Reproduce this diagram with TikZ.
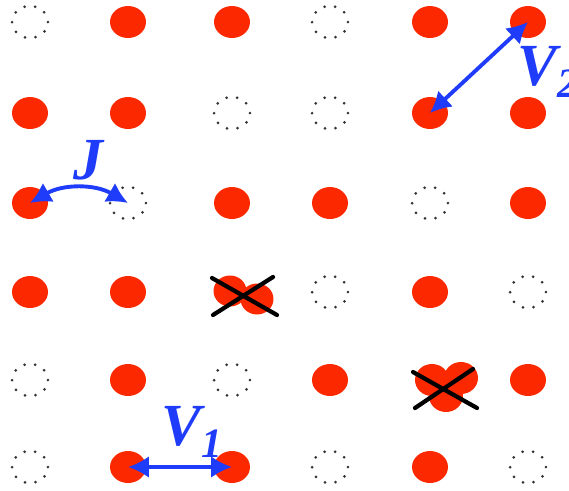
\documentclass[tikz,border=0pt]{standalone}
\usepackage{fontspec}
\setmainfont{Liberation Serif}
\usetikzlibrary{arrows.meta,shapes.geometric,calc}
\definecolor{dotred}{RGB}{252,40,0}
\definecolor{hopblue}{RGB}{30,60,250}

\begin{document}
\begin{tikzpicture}[x=0.02cm, y=-0.02cm,
	site/.style={ellipse, minimum width=0.72cm, minimum height=0.64cm, inner sep=0pt},
	occupied/.style={site, fill=dotred},
	vacant/.style={site, draw=black!80, line width=1.7pt, line cap=round, dash pattern=on 0pt off 6.1pt},
	double/.style={site},
	hop/.style={hopblue, line width=2.2pt, {Latex[length=4.2mm,width=4.4mm]}-{Latex[length=4.2mm,width=4.4mm]}},
	lbl/.style={hopblue, font=\fontsize{34}{34}\selectfont\bfseries\itshape},
	cross/.style={line width=2.4pt, line cap=round}]
	\useasboundingbox (0,0) rectangle (569,491);
	% lattice sites
	\foreach \r/\y/\kinds in {1/22/{vacant,occupied,occupied,vacant,occupied,occupied},
		2/113/{occupied,occupied,vacant,vacant,occupied,occupied},
		3/203/{occupied,vacant,occupied,occupied,vacant,occupied},
		4/292/{occupied,occupied,double,vacant,occupied,vacant},
		5/380/{vacant,occupied,vacant,occupied,double,occupied},
		6/467/{vacant,occupied,occupied,vacant,occupied,vacant}}{
		\foreach \k [count=\c] in \kinds {
			\pgfmathsetmacro\x{{30,128,232,330,430,528}[\c-1]}
			\node[\k] (s\r\c) at (\x,\y) {};
		}
	}
	% doubly occupied sites, crossed out
	\fill[dotred] ($(s43)+(-2,-1)$) ellipse [x radius=0.33cm, y radius=0.31cm];
	\fill[dotred] ($(s43)+(25,7)$) ellipse [x radius=0.33cm, y radius=0.31cm];
	\draw[cross] ($(s43)+(-20,-14)$) -- ($(s43)+(45,23)$);
	\draw[cross] ($(s43)+(-19,23)$) -- ($(s43)+(41,-15)$);
	\fill[dotred] ($(s55)+(2,0)$) ellipse [x radius=0.34cm, y radius=0.32cm];
	\fill[dotred] ($(s55)+(31,-2)$) ellipse [x radius=0.34cm, y radius=0.32cm];
	\fill[dotred] ($(s55)+(16,16)$) ellipse [x radius=0.34cm, y radius=0.32cm];
	\draw[cross] ($(s55)+(-17,-8)$) -- ($(s55)+(47,28)$);
	\draw[cross] ($(s55)+(-15,28)$) -- ($(s55)+(43,-11)$);
	% hopping and interactions
	\draw[hop] (s31.center) to[bend left=30] (s32.center);
	\draw[hop] (s62.center) -- (s63.center);
	\draw[hop] (s16.center) -- (s25.center);
	\node[lbl] (jlab) at (88,160) {J};
	\node[lbl] (v1lab) at (192,432) {V\textsubscript{1}};
	\node[lbl] (v2lab) at (548,72) {V\textsubscript{2}};
\end{tikzpicture}
\end{document}
